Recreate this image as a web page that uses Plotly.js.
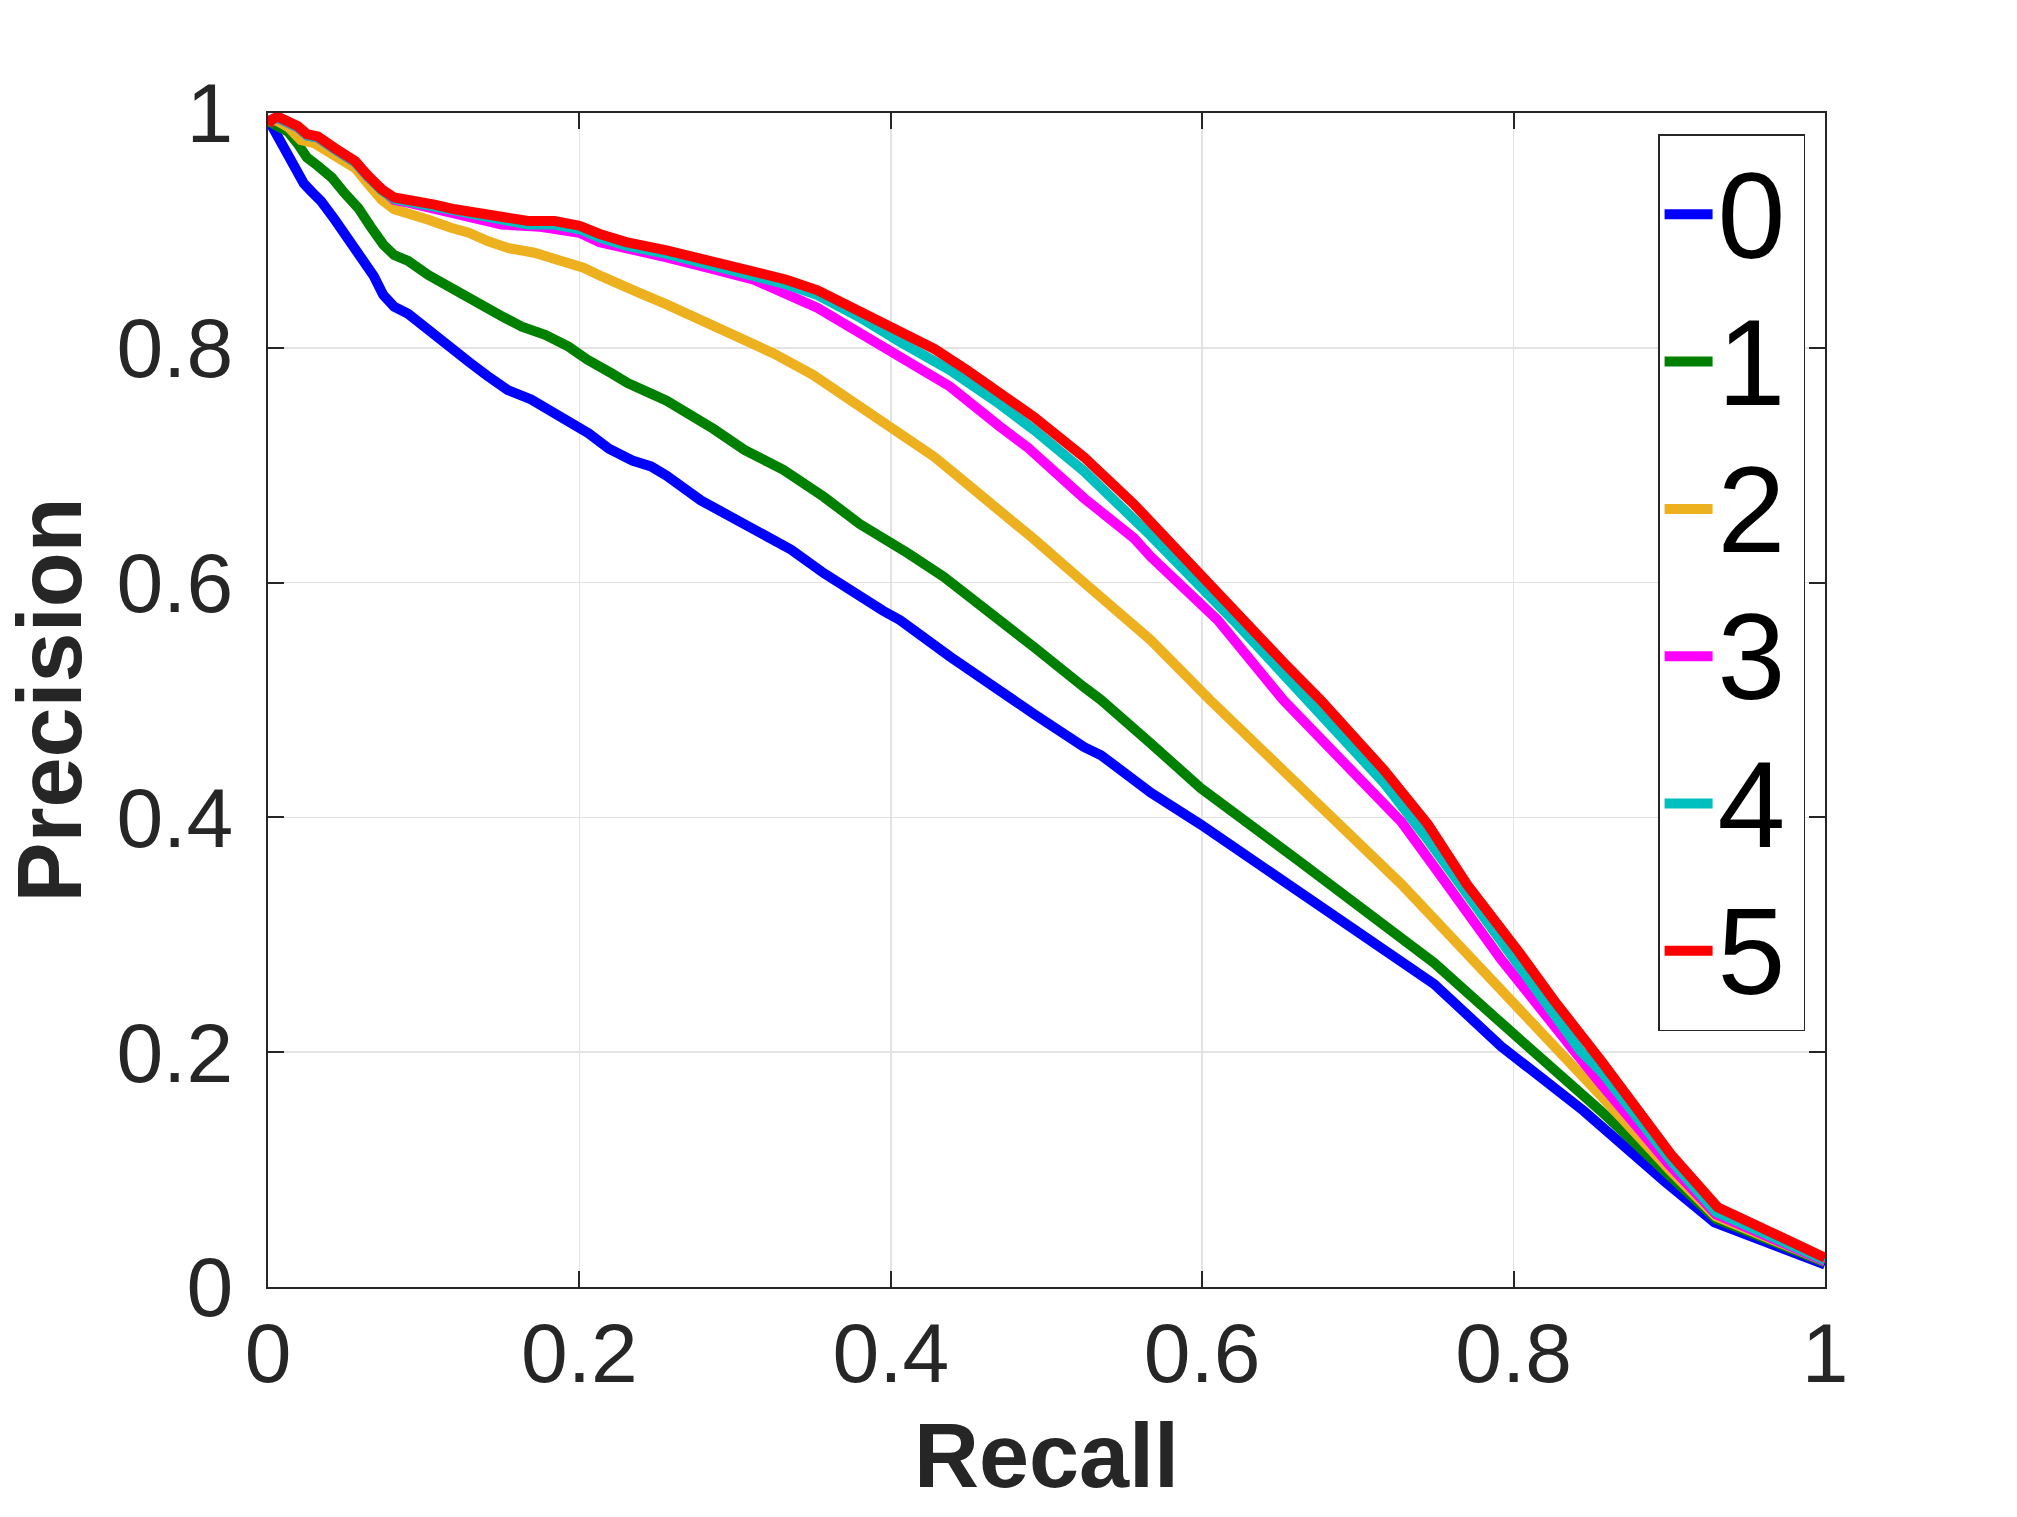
<!DOCTYPE html>
<html>
<head>
<meta charset="utf-8">
<script src="https://cdn.plot.ly/plotly-3.0.1.min.js"></script>
<style>
html, body { margin: 0; padding: 0; background: #ffffff; }
#chart { width: 2017px; height: 1517px; }
</style>
</head>
<body>
<div id="chart"></div>
<script>
// Series names (legend labels)
const seriesNames = ["0", "1", "2", "3", "4", "5"];

// Series 0 (blue)
const recall0 = [0, 0.002, 0.009, 0.015, 0.023, 0.028, 0.034, 0.043, 0.051, 0.060, 0.068, 0.074, 0.081, 0.090, 0.101, 0.111, 0.120, 0.129, 0.141, 0.154, 0.169, 0.182, 0.195, 0.206, 0.219, 0.234, 0.246, 0.256, 0.278, 0.310, 0.336, 0.357, 0.380, 0.395, 0.406, 0.438, 0.492, 0.524, 0.535, 0.567, 0.599, 0.663, 0.728, 0.749, 0.792, 0.845, 0.897, 0.929, 1.0];
const precision0 = [0.995, 0.990, 0.977, 0.960, 0.940, 0.933, 0.925, 0.909, 0.893, 0.878, 0.861, 0.845, 0.835, 0.829, 0.817, 0.805, 0.797, 0.788, 0.776, 0.764, 0.756, 0.746, 0.736, 0.727, 0.714, 0.704, 0.699, 0.691, 0.670, 0.646, 0.628, 0.608, 0.588, 0.576, 0.568, 0.537, 0.488, 0.460, 0.453, 0.421, 0.394, 0.336, 0.275, 0.258, 0.205, 0.150, 0.090, 0.055, 0.019];

// Series 1 (green)
const recall1 = [0, 0.005, 0.013, 0.019, 0.025, 0.032, 0.041, 0.049, 0.058, 0.066, 0.074, 0.081, 0.090, 0.103, 0.116, 0.126, 0.137, 0.150, 0.163, 0.178, 0.193, 0.205, 0.221, 0.231, 0.246, 0.256, 0.286, 0.306, 0.331, 0.357, 0.380, 0.395, 0.411, 0.434, 0.460, 0.492, 0.524, 0.535, 0.567, 0.599, 0.663, 0.728, 0.749, 0.792, 0.856, 0.900, 0.930, 1.0];
const precision1 = [0.993, 0.990, 0.984, 0.974, 0.962, 0.955, 0.945, 0.932, 0.919, 0.903, 0.888, 0.879, 0.874, 0.862, 0.852, 0.844, 0.835, 0.827, 0.818, 0.811, 0.801, 0.790, 0.778, 0.770, 0.761, 0.755, 0.731, 0.713, 0.696, 0.673, 0.650, 0.639, 0.625, 0.605, 0.579, 0.545, 0.511, 0.500, 0.463, 0.425, 0.362, 0.295, 0.276, 0.225, 0.150, 0.095, 0.058, 0.021];

// Series 2 (orange)
const recall2 = [0, 0.005, 0.013, 0.021, 0.030, 0.043, 0.056, 0.064, 0.073, 0.081, 0.090, 0.103, 0.118, 0.129, 0.141, 0.154, 0.171, 0.186, 0.203, 0.214, 0.225, 0.240, 0.256, 0.286, 0.325, 0.350, 0.381, 0.406, 0.428, 0.449, 0.470, 0.492, 0.524, 0.556, 0.567, 0.605, 0.663, 0.695, 0.728, 0.760, 0.792, 0.830, 0.856, 0.900, 0.930, 1.0];
const precision2 = [0.993, 0.994, 0.988, 0.977, 0.974, 0.964, 0.953, 0.940, 0.926, 0.918, 0.915, 0.909, 0.902, 0.898, 0.891, 0.885, 0.881, 0.875, 0.868, 0.861, 0.854, 0.846, 0.837, 0.819, 0.795, 0.777, 0.750, 0.727, 0.707, 0.684, 0.662, 0.637, 0.600, 0.563, 0.551, 0.500, 0.426, 0.385, 0.343, 0.298, 0.252, 0.200, 0.163, 0.100, 0.060, 0.022];

// Series 3 (magenta)
const recall3 = [0, 0.002, 0.006, 0.013, 0.019, 0.025, 0.032, 0.043, 0.056, 0.064, 0.073, 0.081, 0.092, 0.107, 0.120, 0.133, 0.150, 0.175, 0.200, 0.213, 0.230, 0.256, 0.286, 0.312, 0.353, 0.380, 0.406, 0.438, 0.470, 0.488, 0.524, 0.556, 0.567, 0.610, 0.652, 0.663, 0.717, 0.728, 0.749, 0.781, 0.792, 0.839, 0.856, 0.900, 0.930, 1.0];
const precision3 = [0.990, 0.994, 0.996, 0.992, 0.988, 0.981, 0.979, 0.969, 0.958, 0.946, 0.934, 0.926, 0.923, 0.918, 0.913, 0.910, 0.905, 0.903, 0.898, 0.890, 0.884, 0.877, 0.867, 0.858, 0.834, 0.813, 0.793, 0.767, 0.733, 0.715, 0.672, 0.638, 0.622, 0.568, 0.500, 0.485, 0.412, 0.396, 0.358, 0.301, 0.279, 0.201, 0.173, 0.104, 0.062, 0.022];

// Series 4 (cyan)
const recall4 = [0, 0.002, 0.006, 0.013, 0.019, 0.025, 0.032, 0.043, 0.056, 0.064, 0.073, 0.081, 0.092, 0.107, 0.120, 0.133, 0.150, 0.167, 0.184, 0.200, 0.213, 0.230, 0.256, 0.286, 0.312, 0.333, 0.353, 0.380, 0.406, 0.438, 0.470, 0.492, 0.524, 0.556, 0.567, 0.620, 0.668, 0.717, 0.745, 0.781, 0.843, 0.856, 0.901, 0.930, 1.0];
const precision4 = [0.990, 0.994, 0.996, 0.992, 0.988, 0.981, 0.979, 0.969, 0.958, 0.946, 0.934, 0.927, 0.924, 0.920, 0.916, 0.913, 0.908, 0.905, 0.905, 0.901, 0.894, 0.887, 0.880, 0.870, 0.862, 0.854, 0.845, 0.826, 0.805, 0.781, 0.752, 0.730, 0.695, 0.656, 0.640, 0.568, 0.500, 0.429, 0.381, 0.315, 0.201, 0.184, 0.108, 0.064, 0.023];

// Series 5 (red)
const recall5 = [0, 0.002, 0.006, 0.013, 0.019, 0.025, 0.032, 0.043, 0.056, 0.064, 0.073, 0.081, 0.092, 0.107, 0.120, 0.133, 0.150, 0.167, 0.184, 0.200, 0.213, 0.230, 0.256, 0.286, 0.312, 0.333, 0.353, 0.380, 0.406, 0.428, 0.449, 0.470, 0.492, 0.524, 0.556, 0.588, 0.620, 0.653, 0.676, 0.717, 0.745, 0.770, 0.803, 0.826, 0.856, 0.901, 0.931, 1.0];
const precision5 = [0.990, 0.994, 0.997, 0.993, 0.989, 0.982, 0.980, 0.970, 0.959, 0.947, 0.935, 0.928, 0.926, 0.922, 0.918, 0.915, 0.910, 0.908, 0.908, 0.904, 0.897, 0.890, 0.883, 0.873, 0.866, 0.858, 0.849, 0.831, 0.815, 0.799, 0.781, 0.761, 0.741, 0.707, 0.667, 0.622, 0.576, 0.531, 0.500, 0.440, 0.394, 0.343, 0.286, 0.244, 0.193, 0.113, 0.068, 0.025];

// Axis ticks
const tickValues = [0, 0.2, 0.4, 0.6, 0.8, 1];
const tickLabels = ["0", "0.2", "0.4", "0.6", "0.8", "1"];

const recalls = [recall0, recall1, recall2, recall3, recall4, recall5];
const precisions = [precision0, precision1, precision2, precision3, precision4, precision5];
const colors = ["#0000ff", "#008000", "#edb120", "#ff00ff", "#00bfbf", "#ff0000"];

const traces = seriesNames.map((name, i) => ({
  type: "scatter",
  mode: "lines",
  name: '<span style="font-size:122px;letter-spacing:13px">' + name + '</span>',
  x: recalls[i],
  y: precisions[i],
  line: { color: colors[i], width: 10, shape: "linear" },
  hoverinfo: "skip"
}));

const fontFamily = "Liberation Sans, Arial, Helvetica, sans-serif";

const axisCommon = {
  range: [0, 1],
  tickvals: tickValues,
  ticktext: tickLabels,
  ticks: "inside",
  ticklen: 16,
  tickwidth: 2,
  tickcolor: "#262626",
  showline: true,
  linecolor: "#262626",
  linewidth: 2,
  mirror: "ticks",
  showgrid: true,
  gridcolor: "#e3e3e3",
  gridwidth: 1.5,
  zeroline: false,
  tickfont: { family: fontFamily, size: 84, color: "#262626" },
  automargin: false,
  fixedrange: true
};

const layout = {
  width: 2017,
  height: 1517,
  paper_bgcolor: "#ffffff",
  plot_bgcolor: "#ffffff",
  margin: { l: 268, r: 192, t: 113, b: 230, pad: 0 },
  showlegend: true,
  xaxis: Object.assign({}, axisCommon, {
    ticklabelstandoff: -8,
    title: { text: "Recall", font: { family: fontFamily, size: 90, color: "#262626", weight: "bold" }, standoff: 25 }
  }),
  yaxis: Object.assign({}, axisCommon, {
    ticklabelstandoff: 16,
    title: { text: "Precision", font: { family: fontFamily, size: 90, color: "#262626", weight: "bold" }, standoff: 8 }
  }),
  legend: {
    x: 0.9872,
    y: 0.982,
    xanchor: "right",
    yanchor: "top",
    bgcolor: "#ffffff",
    bordercolor: "#262626",
    borderwidth: 1.5,
    itemwidth: 48,
    font: { family: fontFamily, size: 111, color: "#000000" },
    traceorder: "normal"
  }
};

Plotly.newPlot("chart", traces, layout, { staticPlot: true, displayModeBar: false });
</script>
</body>
</html>
